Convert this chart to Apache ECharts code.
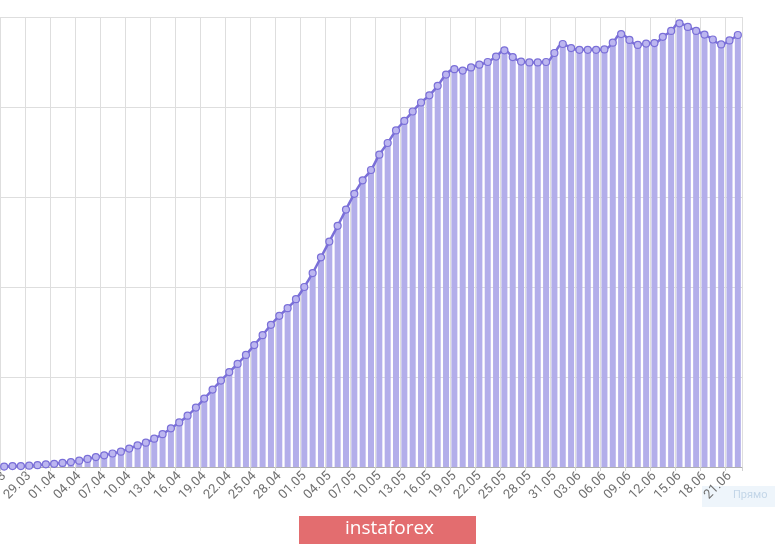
<!DOCTYPE html>
<html>
<head>
<meta charset="utf-8">
<script src="https://cdn.jsdelivr.net/npm/echarts@6/dist/echarts.min.js"></script>
<style>html,body{margin:0;padding:0;background:#fff}#c{width:775px;height:546px}</style>
</head>
<body>
<div id="c"></div>
<script>
var dates = ["26.03","27.03","28.03","29.03","30.03","31.03",
"01.04","02.04","03.04","04.04","05.04","06.04","07.04","08.04","09.04","10.04","11.04","12.04","13.04","14.04","15.04","16.04","17.04","18.04","19.04","20.04","21.04","22.04","23.04","24.04","25.04","26.04","27.04","28.04","29.04","30.04",
"01.05","02.05","03.05","04.05","05.05","06.05","07.05","08.05","09.05","10.05","11.05","12.05","13.05","14.05","15.05","16.05","17.05","18.05","19.05","20.05","21.05","22.05","23.05","24.05","25.05","26.05","27.05","28.05","29.05","30.05","31.05",
"01.06","02.06","03.06","04.06","05.06","06.06","07.06","08.06","09.06","10.06","11.06","12.06","13.06","14.06","15.06","16.06","17.06","18.06","19.06","20.06","21.06","22.06"];

var values = [0.1,0.2,0.2,0.3,0.4,0.6,0.7,0.9,1.1,1.4,1.8,2.2,2.6,3.0,3.4,4.1,4.8,5.4,6.3,7.3,8.6,9.9,11.4,13.2,15.2,17.2,19.2,21.1,22.9,24.9,27.1,29.3,31.6,33.6,35.3,37.3,40.0,43.1,46.6,50.1,53.6,57.2,60.7,63.7,66.0,69.4,72.0,74.8,76.9,79.0,81.0,82.6,84.7,87.2,88.4,88.1,88.8,89.4,90.0,91.2,92.6,91.1,90.1,89.9,89.9,90.0,92.0,94.0,93.1,92.7,92.7,92.7,92.8,94.3,96.2,94.9,93.8,94.1,94.2,95.6,96.9,98.6,97.8,96.9,96.1,95.0,93.9,94.8,96.0];

var yMax = 100, yStep = 20;

var chart = echarts.init(document.getElementById('c'), null, {renderer:'canvas'});
chart.setOption({
  animation: false,
  backgroundColor: '#ffffff',
  grid: {left: 0, right: 33, top: 17, bottom: 79, containLabel: false, outerBoundsMode: 'none'},
  xAxis: {
    type: 'category',
    data: dates,
    boundaryGap: true,
    axisLine: {show: true, lineStyle: {color: '#b0b0b0', width: 1}},
    axisTick: {show: true, interval: 2, length: 4, lineStyle: {color: '#d0d0d0'}},
    axisLabel: {interval: 2, rotate: 45, color: '#707070', fontSize: 13, fontFamily: 'Roboto', margin: 7, hideOverlap: false},
    splitLine: {show: true, interval: 2, lineStyle: {color: '#dedede', width: 1}}
  },
  yAxis: {
    type: 'value',
    min: 0, max: yMax, interval: yStep,
    axisLine: {show: false},
    axisTick: {show: false},
    axisLabel: {show: false},
    splitLine: {show: true, lineStyle: {color: '#dedede', width: 1}}
  },
  series: [
    {
      type: 'bar',
      data: values,
      barWidth: 6,
      itemStyle: {color: '#b3aeea'},
      z: 1
    },
    {
      type: 'line',
      data: values,
      smooth: true,
      showAllSymbol: true,
      symbol: 'circle',
      symbolSize: 7,
      lineStyle: {color: '#7a6fd8', width: 2.5},
      itemStyle: {color: '#bcb6f0', borderColor: '#7a6fd8', borderWidth: 1.2},
      z: 3
    }
  ],
  graphic: [
    {type: 'rect', left: 299, top: 516, shape: {width: 177, height: 28}, style: {fill: '#e36d6f'}, z: 10},
    {type: 'text', left: 345, top: 519, style: {text: 'instaforex', fill: '#ffffff', font: '19px "Open Sans", sans-serif'}, z: 11},
    {type: 'rect', left: 702, top: 486, shape: {width: 73, height: 21}, style: {fill: '#eef5fb'}, z: -10, zlevel: -1},
    {type: 'text', left: 733, top: 490, style: {text: 'Прямо', fill: '#c3d6e8', font: '11px Roboto, sans-serif'}, z: -9, zlevel: -1}
  ]
});
</script>
</body>
</html>
